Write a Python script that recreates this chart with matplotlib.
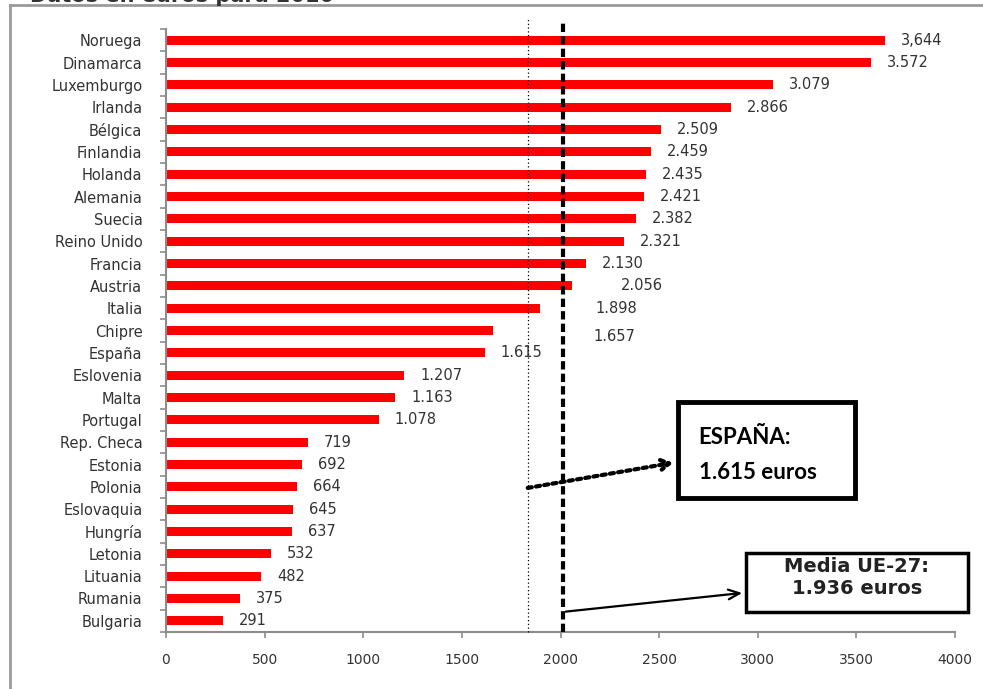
import numpy as np
import matplotlib.pyplot as plt
from matplotlib.patches import Rectangle
from matplotlib.ticker import FixedLocator

plt.rcParams['font.family'] = ['DejaVu Sans']

# salario minimo mensual, euros (2010)
paises = ['Noruega', 'Dinamarca', 'Luxemburgo', 'Irlanda', 'Bélgica', 'Finlandia',
          'Holanda', 'Alemania', 'Suecia', 'Reino Unido', 'Francia', 'Austria',
          'Italia', 'Chipre', 'España', 'Eslovenia', 'Malta', 'Portugal',
          'Rep. Checa', 'Estonia', 'Polonia', 'Eslovaquia', 'Hungría', 'Letonia',
          'Lituania', 'Rumania', 'Bulgaria']
valores = [3644, 3572, 3079, 2866, 2509, 2459, 2435, 2421, 2382, 2321, 2130, 2056,
           1898, 1657, 1615, 1207, 1163, 1078, 719, 692, 664, 645, 637, 532,
           482, 375, 291]
etiquetas = ['3,644', '3.572', '3.079', '2.866', '2.509', '2.459', '2.435', '2.421',
             '2.382', '2.321', '2.130', '2.056', '1.898', '1.657', '1.615', '1.207',
             '1.163', '1.078', '719', '692', '664', '645', '637', '532', '482',
             '375', '291']
xticks = [0, 500, 1000, 1500, 2000, 2500, 3000, 3500, 4000]

# labels that have to be pushed clear of the reference lines (points)
extra_dx = {'Austria': 24, 'Italia': 28, 'Chipre': 61}
extra_dy = {'Chipre': -4}

gris = '#8c8c8c'
texto = '#333333'

fig = plt.figure(figsize=(9.83, 6.89), dpi=100)
ax = fig.add_axes([166 / 983, 1 - 632 / 689, (955 - 166) / 983, (632 - 29) / 689])

y = np.arange(len(paises))
ax.barh(y, valores, height=0.4, color='#ff0000', zorder=2)

for yi, v, lab, p in zip(y, valores, etiquetas, paises):
    ax.annotate(lab, (v, yi), xytext=(11.5 + extra_dx.get(p, 0), extra_dy.get(p, 0)),
                textcoords='offset points', ha='left', va='center',
                fontsize=10.5, color=texto)

ax.set_xlim(0, 4000)
ax.set_ylim(len(paises) - 0.5, -0.5)
ax.set_yticks(y)
ax.set_yticklabels(paises)
ax.yaxis.set_minor_locator(FixedLocator(np.arange(-0.5, len(paises), 1)))
ax.tick_params(axis='y', which='major', length=0, pad=17, labelsize=10.5, labelcolor=texto)
ax.tick_params(axis='y', which='minor', length=4, width=1.2, color=gris, direction='out')
ax.set_xticks(xticks)
ax.tick_params(axis='x', length=4, width=1.2, color=gris, pad=11, labelsize=10,
               labelcolor=texto)
for s in ['top', 'right']:
    ax.spines[s].set_visible(False)
for s in ['left', 'bottom']:
    ax.spines[s].set_color(gris)
    ax.spines[s].set_linewidth(1.5)

# reference lines
x_media = 2013
x_punteada = 1835
ax.plot([x_media, x_media], [len(paises) - 0.5, -0.9], color='black', lw=3,
        ls=(0, (2.0, 1.0)), clip_on=False, zorder=3)
ax.plot([x_punteada, x_punteada], [len(paises) - 0.5, -1.0], color='black', lw=0.9,
        ls=(0, (1, 2)), clip_on=False, zorder=3)

# annotation: España
ax.annotate('', xy=(2585, 18.9), xytext=(1820, 20.07),
            arrowprops=dict(arrowstyle='->,head_length=0.6,head_width=0.35',
                            lw=3, ls=(0, (1, 1)), color='black'))
ax.add_patch(Rectangle((2596, 16.2), 897, 4.3, transform=ax.transData,
                       fill=False, lw=3.5, ec='black', clip_on=False, zorder=4))
ax.text(2700, 17.8, 'ESPAÑA:', fontsize=16, fontweight='bold', family='Lato',
        va='center', ha='left')
ax.text(2700, 19.35, '1.615 euros', fontsize=16, fontweight='bold', family='Lato',
        va='center', ha='left')

# annotation: media UE-27
ax.annotate('', xy=(2935, 24.74), xytext=(x_media, 25.6),
            arrowprops=dict(arrowstyle='->,head_length=0.8,head_width=0.35',
                            lw=1.6, color='black'))
ax.add_patch(Rectangle((2940, 22.95), 1125, 2.65, transform=ax.transData,
                       fill=False, lw=2.5, ec='black', clip_on=False, zorder=4))
ax.text(3502, 23.57, 'Media UE-27:', fontsize=14, fontweight='bold', color='#222222',
        va='center', ha='center')
ax.text(3502, 24.56, '1.936 euros', fontsize=14, fontweight='bold', color='#222222',
        va='center', ha='center')

# outer frame and title cut at the top
fig.add_artist(plt.Line2D([10 / 983, 1], [1 - 5 / 689, 1 - 5 / 689], color='#9a9a9a', lw=2))
fig.add_artist(plt.Line2D([10 / 983, 10 / 983], [0, 1 - 5 / 689], color='#9a9a9a', lw=2))
fig.text(30 / 983, 1 - 2 / 689, 'Datos en euros para 2010', fontsize=15,
         fontweight='bold', color='#333333', va='baseline', ha='left')

fig.savefig('out.png', dpi=100)
